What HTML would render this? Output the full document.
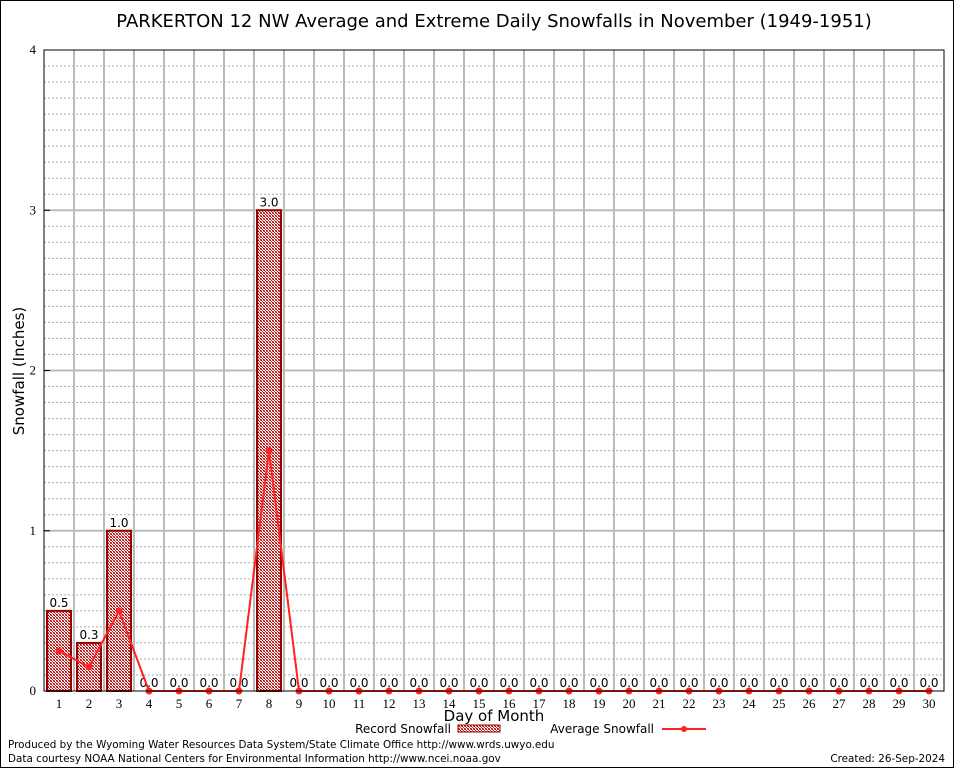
<!DOCTYPE html>
<html><head><meta charset="utf-8"><style>
body{margin:0;background:#fff;}
svg text{font-family:"DejaVu Sans","Liberation Sans",sans-serif;}
svg text.serif{font-family:"Liberation Serif",serif;}
</style></head><body>
<svg id="c" width="954" height="768" xmlns="http://www.w3.org/2000/svg">
<defs>
<pattern id="hatch" width="3" height="3" patternUnits="userSpaceOnUse">
<rect width="3" height="3" fill="#fff"/>
<rect x="0" y="0" width="1" height="1" fill="#a00"/>
<rect x="1" y="1" width="1" height="1" fill="#c22"/>
<rect x="2" y="2" width="1" height="1" fill="#a00"/>
<rect x="2" y="0" width="1" height="1" fill="#d66"/>
<rect x="0" y="2" width="1" height="1" fill="#d66"/>
</pattern>
</defs>
<rect x="0.5" y="0.5" width="953" height="767" fill="#fff" stroke="#000"/>
<text x="494" y="27" font-size="18" text-anchor="middle">PARKERTON 12 NW Average and Extreme Daily Snowfalls in November (1949-1951)</text>
<g id="grid"></g>
<g id="bars"></g>
<g id="line"></g>
<g id="axes"></g>
<text transform="translate(24,371) rotate(-90)" font-size="15" text-anchor="middle">Snowfall (Inches)</text>
<text x="494" y="721" font-size="15" text-anchor="middle">Day of Month</text>
<g>
<text x="451" y="733" font-size="12" text-anchor="end">Record Snowfall</text>
<rect x="458" y="725" width="42" height="7" fill="url(#hatch)" stroke="#900"/>
<text x="654" y="733" font-size="12" text-anchor="end">Average Snowfall</text>
<line x1="662" y1="729" x2="706" y2="729" stroke="#f22" stroke-width="2"/>
<circle cx="684" cy="729" r="3" fill="#f22"/>
</g>
<text x="8" y="748" font-size="10.4">Produced by the Wyoming Water Resources Data System/State Climate Office http://www.wrds.uwyo.edu</text>
<text x="8" y="762" font-size="10.4">Data courtesy NOAA National Centers for Environmental Information http://www.ncei.noaa.gov</text>
<text x="945" y="762" font-size="10.4" text-anchor="end">Created:  26-Sep-2024</text>
</svg>
<script>
const days=[1,2,3,4,5,6,7,8,9,10,11,12,13,14,15,16,17,18,19,20,21,22,23,24,25,26,27,28,29,30];
const recordVals=[0.5,0.3,1.0,0,0,0,0,3.0,0,0,0,0,0,0,0,0,0,0,0,0,0,0,0,0,0,0,0,0,0,0];
const avgVals=[0.25,0.15,0.5,0,0,0,0,1.5,0,0,0,0,0,0,0,0,0,0,0,0,0,0,0,0,0,0,0,0,0,0];
const yTicks=[0,1,2,3,4];
const NS="http://www.w3.org/2000/svg";
const L=44,R=944,T=50,B=691,yMax=4;
const xs=d=>L+(d-0.5)*(R-L)/days.length;
const ys=v=>B-v*(B-T)/yMax;
function mk(tag,attrs,parent,txt){const e=document.createElementNS(NS,tag);for(const k in attrs)e.setAttribute(k,attrs[k]);if(txt!==undefined)e.textContent=txt;parent.appendChild(e);return e;}
const grid=document.getElementById('grid'),bars=document.getElementById('bars'),line=document.getElementById('line'),axes=document.getElementById('axes');
for(let i=1;i<yMax*10;i++){if(i%10===0)continue;const y=ys(i/10);
const g=mk('line',{x1:L,x2:R,y1:y,y2:y,stroke:'#aaa','stroke-dasharray':'2,2','stroke-width':1},grid);
}
for(let k=1;k<days.length;k++){const x=L+k*(R-L)/days.length;
const g=mk('line',{x1:x,x2:x,y1:T,y2:B,stroke:'#bbb','stroke-width':2},grid);
}
yTicks.forEach(t=>{const y=ys(t);
if(t>0&&t<yMax){const g=mk('line',{x1:L,x2:R,y1:y,y2:y,stroke:'#bbb','stroke-width':2},grid);
}
const tl=mk('text',{x:L-8,y:y+4,'font-size':13,'text-anchor':'end','class':'serif'},axes,String(t));

const tk=mk('line',{x1:L,x2:L+6,y1:y,y2:y,stroke:'#000'},axes);
});
days.forEach((d,i)=>{const x=xs(d),v=recordVals[i];
if(v>0){const r=mk('rect',{x:x-12,y:ys(v),width:24,height:B-ys(v),fill:'url(#hatch)',stroke:'#900','stroke-width':2},bars);
}
const lb=mk('text',{x:x,y:ys(v)-4,'font-size':12,'text-anchor':'middle'},bars,v.toFixed(1));

const tl=mk('text',{x:x,y:B+17,'font-size':13,'text-anchor':'middle','class':'serif'},axes,String(d));
});
const pl=mk('polyline',{points:days.map((d,i)=>xs(d)+','+ys(avgVals[i])).join(' '),fill:'none',stroke:'#f22','stroke-width':2},line);

days.forEach((d,i)=>{const c=mk('circle',{cx:xs(d),cy:ys(avgVals[i]),r:3.5,fill:'#f22'},line);
});
const fr=mk('rect',{x:L,y:T,width:R-L,height:B-T,fill:'none',stroke:'#000','stroke-width':1},axes);

</script>
</body></html>
